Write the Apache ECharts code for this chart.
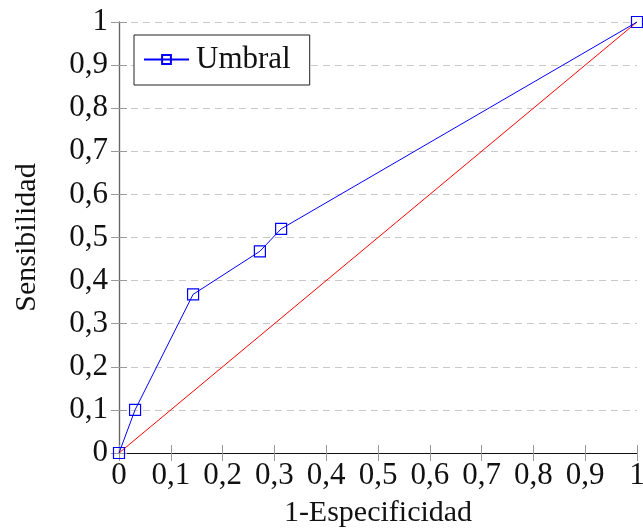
<!DOCTYPE html>
<html><head><meta charset="utf-8">
<script src="https://cdn.jsdelivr.net/npm/echarts@6/dist/echarts.min.js"></script>
<style>html,body{margin:0;padding:0;background:#fff}#c{width:643px;height:531px}</style>
</head><body><div id="c"></div>
<script>
const xValues = [0, 0.031, 0.143, 0.272, 0.313, 1];
const yValues = [0, 0.1, 0.368, 0.468, 0.52, 1];
const refX = [0, 1];
const refY = [0, 1];
const seriesName = 'Umbral';
const xTitle = '1-Especificidad';
const yTitle = 'Sensibilidad';

const FONT = 'Liberation Serif';
const fmt = v => {
  const r = Math.round(v * 10) / 10;
  if (r === 0) return '0';
  if (r === 1) return '1';
  return r.toFixed(1).replace('.', ',');
};
const chart = echarts.init(document.getElementById('c'));
const baseAxis = {
  type: 'value', min: 0, max: 1, interval: 0.1,
  axisLine: { show: true, lineStyle: { color: '#666', width: 1.2 } },
  axisTick: { show: true, inside: true, length: 8, lineStyle: { color: '#999' } },
  splitLine: { show: false }
};
chart.setOption({
  animation: false,
  backgroundColor: '#fff',
  grid: { left: 119, right: 6, top: 22, bottom: 78, containLabel: false, outerBoundsMode: 'none' },
  legend: {
    left: 134, top: 35,
    data: [seriesName],
    borderColor: '#222', borderWidth: 1, backgroundColor: '#fff',
    padding: [9, 19, 10, 9],
    itemWidth: 45, itemHeight: 11, itemGap: 6,
    textStyle: { fontFamily: FONT, fontSize: 31, color: '#111', padding: [0, 0, 0, 2] }
  },
  xAxis: [
    Object.assign({}, baseAxis, {
      position: 'bottom',
      name: xTitle, nameLocation: 'middle', nameGap: 45,
      nameTextStyle: { fontFamily: FONT, fontSize: 30, color: '#111' },
      axisLabel: { formatter: fmt, fontFamily: FONT, fontSize: 31, color: '#111', margin: 7 }
    }),
    Object.assign({}, baseAxis, {
      position: 'top',
      axisLine: { show: true, lineStyle: { color: '#111', width: 1.2 } },
      axisLabel: { show: false }
    })
  ],
  yAxis: [
    Object.assign({}, baseAxis, {
      position: 'left',
      name: yTitle, nameLocation: 'middle', nameGap: 77, nameRotate: 90,
      nameTextStyle: { fontFamily: FONT, fontSize: 30, color: '#111' },
      axisLabel: { formatter: fmt, fontFamily: FONT, fontSize: 31, color: '#111', margin: 11 },
      splitLine: { show: true, lineStyle: { color: '#c8c8c8', type: [7, 5], width: 1 } }
    }),
    Object.assign({}, baseAxis, {
      position: 'right',
      axisLabel: { show: false }
    })
  ],
  series: [
    {
      name: seriesName, type: 'line',
      data: xValues.map((x, i) => [x, yValues[i]]),
      symbol: 'rect', symbolSize: 11, showSymbol: true,
      lineStyle: { color: '#0000ff', width: 1 },
      itemStyle: { color: 'rgba(0,0,0,0)', borderColor: '#0000ff', borderWidth: 1.2 },
      z: 3
    },
    {
      name: 'ref', type: 'line',
      data: refX.map((x, i) => [x, refY[i]]),
      symbol: 'none',
      lineStyle: { color: '#ff0000', width: 1 },
      z: 2
    }
  ]
});
</script></body></html>
